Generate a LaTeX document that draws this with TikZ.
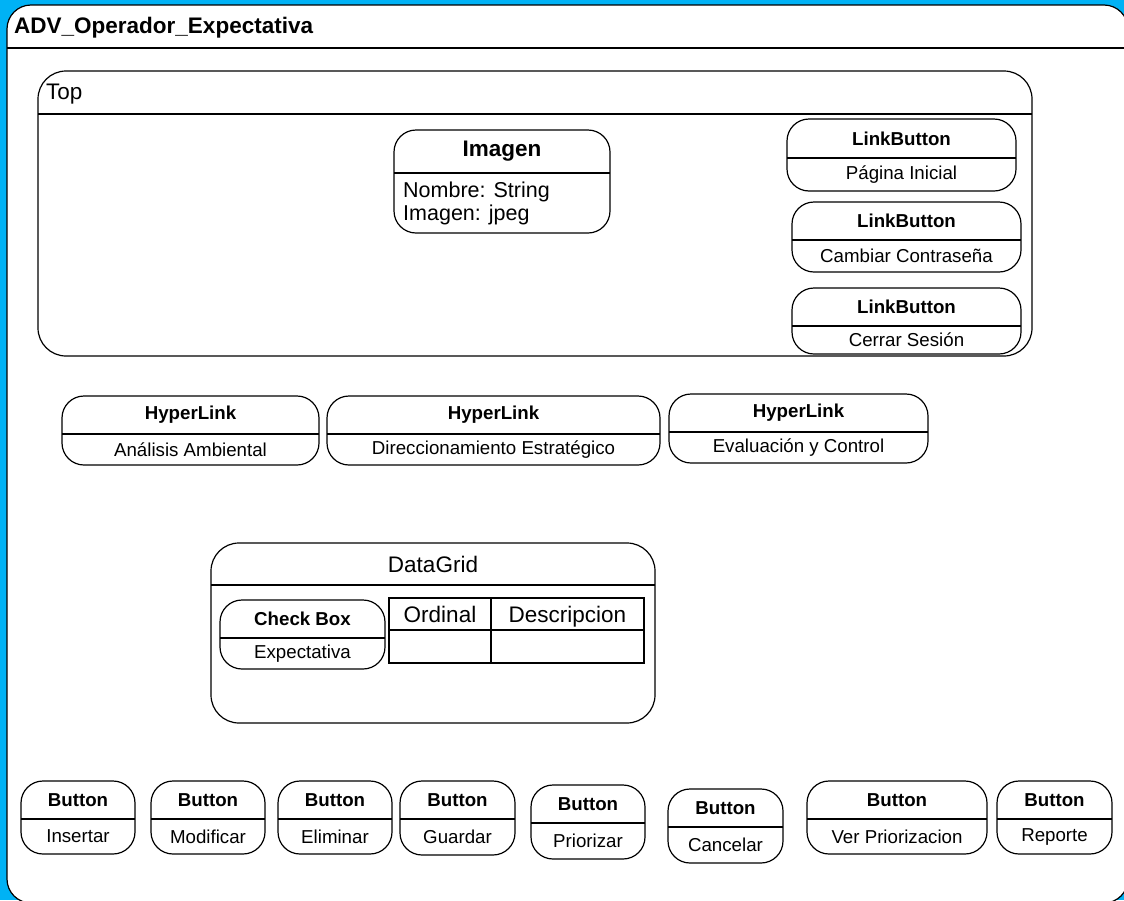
\documentclass[tikz,border=0pt]{standalone}
\usepackage{fontspec}
\setmainfont{Liberation Sans}
\usetikzlibrary{positioning,fit,calc}

\definecolor{frameblue}{RGB}{0,178,245}
\newcommand{\bigtxt}{\fontsize{22.5}{20}\selectfont}
\newcommand{\smalltxt}{\fontsize{18.7}{22}\selectfont}

% name, left, top, right, bottom, separator, header, label
\newcommand{\compbox}[8]{%
  \node[box, fit={(#2,#3) (#4,#5)}] (#1) {};
  \draw[sepline] (#1.west |- 0,#6) -- (#1.east |- 0,#6);
  \node[hdr] (#1-h) at ($(#1.north)!0.5!(#1.north |- 0,#6)$) {#7};
  \node[lbl] (#1-l) at ($(#1.south)!0.5!(#1.south |- 0,#6)$) {#8};}

\tikzset{
  box/.style={draw, fill=white, line width=1.2pt, rounded corners=22pt,
    inner sep=0pt, outer sep=0pt},
  sepline/.style={line width=1.2pt},
  hdr/.style={font=\smalltxt\bfseries, inner sep=0pt},
  lbl/.style={font=\smalltxt, inner sep=0pt},
  cell/.style={draw, line width=1.2pt, inner sep=0pt, outer sep=0pt}
}

\begin{document}
\begin{tikzpicture}[x=1pt, y=-1pt]
  \useasboundingbox (0,0) rectangle (1124,900);
  \fill[frameblue] (0,0) rectangle (1124,900);

  % outer frame
  \node[box, rounded corners=24pt, fit={(7,5) (1128,903)}] (frame) {};
  \draw[sepline] (frame.west |- 0,48) -- (frame.east |- 0,48);
  \node[anchor=base west, font=\bigtxt\bfseries, inner sep=0pt] (title) at (14,33) {ADV\_Operador\_Expectativa};

  % top panel
  \node[box, rounded corners=28pt, fit={(38,71) (1032,356)}] (top) {};
  \draw[sepline] (top.west |- 0,114) -- (top.east |- 0,114);
  \node[anchor=base west, font=\bigtxt, inner sep=0pt] (top-h) at (46,99) {Top};

  \compbox{img}{394}{130}{610}{233}{173}{\bigtxt Imagen}{}
  \node[anchor=base west, font=\fontsize{21.5}{20}\selectfont, inner sep=0pt] (img-n) at (403,197) {Nombre: String};
  \node[anchor=base west, font=\fontsize{21.5}{20}\selectfont, inner sep=0pt] (img-i) at (403,220) {Imagen: jpeg};

  \compbox{lb1}{787}{119}{1016}{191}{158}{LinkButton}{Página Inicial}
  \compbox{lb2}{792}{202}{1021}{272}{240}{LinkButton}{Cambiar Contraseña}
  \compbox{lb3}{792}{288}{1021}{354}{326}{LinkButton}{Cerrar Sesión}

  % hyperlinks
  \compbox{hl1}{62}{396}{319}{465}{434}{HyperLink}{Análisis Ambiental}
  \compbox{hl2}{327}{396}{660}{465}{434}{HyperLink}{Direccionamiento Estratégico}
  \compbox{hl3}{669}{394}{928}{463}{432}{HyperLink}{Evaluación y Control}

  % datagrid
  \node[box, rounded corners=28pt, fit={(211,543) (655,723)}] (grid) {};
  \draw[sepline] (grid.west |- 0,585) -- (grid.east |- 0,585);
  \node[font=\bigtxt, inner sep=0pt] (grid-h) at ($(grid.north)!0.5!(grid.north |- 0,585)$) {DataGrid};
  \compbox{chk}{220}{600}{385}{669}{638}{Check Box}{Expectativa}
  \node[cell, fit={(389,598) (491,630)}] (ord) {};
  \node[cell, fit={(491,598) (644,630)}] (desc) {};
  \node[cell, fit={(389,630) (491,663)}] (ord-v) {};
  \node[cell, fit={(491,630) (644,663)}] (desc-v) {};
  \node[font=\bigtxt, inner sep=0pt, anchor=base] (ord-t) at (ord.center |- 0,622) {Ordinal};
  \node[font=\bigtxt, inner sep=0pt, anchor=base] (desc-t) at (desc.center |- 0,622) {Descripcion};

  % buttons
  \compbox{b1}{21}{781}{135}{854}{819}{Button}{Insertar}
  \compbox{b2}{151}{781}{265}{854}{819}{Button}{Modificar}
  \compbox{b3}{278}{781}{392}{854}{819}{Button}{Eliminar}
  \compbox{b4}{400}{781}{515}{855}{819}{Button}{Guardar}
  \compbox{b5}{531}{785}{645}{859}{823}{Button}{Priorizar}
  \compbox{b6}{668}{789}{783}{863}{827}{Button}{Cancelar}
  \compbox{b7}{807}{781}{987}{854}{819}{Button}{Ver Priorizacion}
  \compbox{b8}{997}{781}{1112}{854}{819}{Button}{Reporte}
\end{tikzpicture}
\end{document}
